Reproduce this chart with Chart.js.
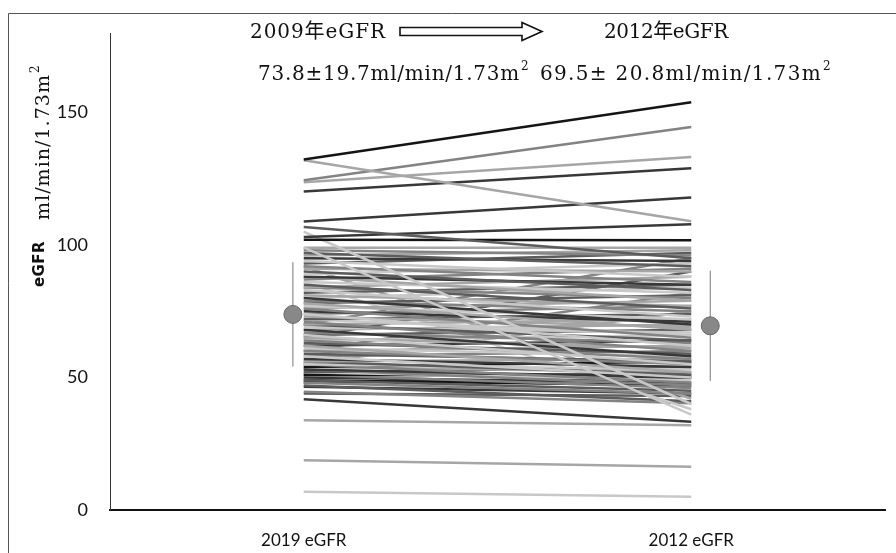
<!DOCTYPE html>
<html>
<head>
<meta charset="utf-8">
<script src="https://cdn.jsdelivr.net/npm/chart.js@4"></script>
<style>
  html, body { margin: 0; padding: 0; background: #fff; }
</style>
</head>
<body>
<canvas id="myChart" width="896" height="553"></canvas>
<script>
const xLabels = ["2019 eGFR", "2012 eGFR"];
const xTickPos = [0.5, 1.5];
const yTicks = [0, 50, 100, 150];

// one entry per patient: 2009 value -> 2012 value
const egfr2009 = [132.3, 132, 124.4, 123.7, 120.2, 108.9, 106.8, 103, 102, 105, 99,
  99, 98, 97, 96, 95, 94, 93, 92, 91, 90, 89, 88, 88, 87, 86, 85, 84, 84, 83, 82, 81,
  80, 80, 79, 78, 78, 77, 76, 76, 75, 74, 74, 73, 72, 72, 71, 70, 70, 69, 68, 68, 67,
  66, 66, 65, 64, 64, 63, 62, 62, 61, 60, 60, 59, 58, 58, 57, 56, 56, 55, 55, 54, 54,
  53, 53, 52, 52, 51, 51, 50, 50, 49, 49, 48, 48,
  92, 86, 60, 55, 65, 70,
  47, 46.5, 44.6, 44, 41.8, 33.9, 18.8, 6.9];
const egfr2012 = [153.9, 109, 144.5, 133.2, 129, 117.9, 95, 107.8, 101.8, 40, 36,
  99, 96, 92, 98, 94, 88, 97, 86, 90, 83, 93, 85, 79, 91, 82, 76, 88, 80, 73, 85, 77,
  70, 84, 75, 68, 81, 72, 65, 79, 71, 62, 77, 69, 74, 66, 60, 72, 64, 67, 58, 70, 63,
  55, 68, 61, 57, 66, 59, 52, 64, 58, 55, 62, 56, 50, 60, 54, 57, 51, 53, 48, 56, 52,
  50, 47, 54, 49, 51, 46, 48, 52, 45, 47, 44, 50,
  42, 38, 82, 75, 90, 95,
  41, 44, 40.3, 43, 33.3, 32, 16.3, 5];
const lineShade = [0, 4, 3, 4, 1, 1, 2, 1, 0, 5, 5,
  4, 3, 2, 4, 1, 5, 2, 3, 4, 2, 5, 1, 4, 3, 5, 2, 4, 3, 5, 2, 4,
  1, 5, 3, 4, 2, 5, 3, 4, 1, 5, 3, 4, 2, 5, 3, 4, 2, 5, 1, 4, 3,
  5, 2, 4, 3, 5, 2, 4, 1, 5, 3, 4, 2, 5, 3, 1, 4, 2, 5, 3, 0, 4,
  1, 3, 2, 5, 0, 3, 1, 4, 2, 0, 3, 1,
  4, 5, 3, 4, 2, 3,
  2, 1, 3, 2, 1, 4, 4, 5];

const meanValues = [73.8, 69.5];
const sdValues = [19.7, 20.8];
const meanXPos = [0.472, 1.549];

const headerYears = ["2009年eGFR", "2012年eGFR"];
const headerStats = ["73.8±19.7ml/min/1.73m", "69.5± 20.8ml/min/1.73m"];

const palette = ["#141414", "#383838", "#5c5c5c", "#838383", "#a6a6a6", "#c8c8c8"];
const serif = '"DejaVu Serif", "Noto Sans CJK JP", serif';

const datasets = [];

datasets.push({
  label: "mean",
  data: meanXPos.map((x, i) => ({ x: x, y: meanValues[i] })),
  pointRadius: 9,
  backgroundColor: "#888888",
  borderColor: "#666666",
  borderWidth: 1,
  showLine: false
});

meanXPos.forEach((x, i) => {
  datasets.push({
    label: "sd" + i,
    data: [{ x: x, y: meanValues[i] - sdValues[i] }, { x: x, y: meanValues[i] + sdValues[i] }],
    showLine: true,
    borderColor: "#777777",
    borderWidth: 1,
    pointRadius: 0
  });
});

egfr2009.forEach((v, i) => {
  datasets.push({
    label: "p" + i,
    data: [{ x: xTickPos[0], y: v }, { x: xTickPos[1], y: egfr2012[i] }],
    showLine: true,
    borderColor: palette[lineShade[i]],
    borderWidth: 2.5,
    pointRadius: 0
  });
});

function fitText(ctx, text, x, y, width) {
  ctx.letterSpacing = "0px";
  const w = ctx.measureText(text).width;
  const n = [...text].length;
  ctx.letterSpacing = ((width - w) / n) + "px";
  ctx.fillText(text, x, y);
  ctx.letterSpacing = "0px";
  return x + width;
}

const decorations = {
  id: "decorations",
  afterDraw(chart) {
    const ctx = chart.ctx;
    ctx.save();

    // frame
    ctx.strokeStyle = "#555";
    ctx.lineWidth = 1;
    ctx.beginPath();
    ctx.moveTo(8.5, 553);
    ctx.lineTo(8.5, 13.5);
    ctx.lineTo(896, 13.5);
    ctx.stroke();

    // header
    ctx.fillStyle = "#111";
    ctx.textBaseline = "alphabetic";
    ctx.textAlign = "left";
    ctx.font = "20px " + serif;
    fitText(ctx, headerYears[0], 250, 38, 136);
    fitText(ctx, headerYears[1], 604, 38, 124);

    let end = fitText(ctx, headerStats[0], 258, 80, 262);
    ctx.font = "12px " + serif;
    ctx.fillText("2", end + 1, 70);
    ctx.font = "20px " + serif;
    end = fitText(ctx, headerStats[1], 540, 80, 282);
    ctx.font = "12px " + serif;
    ctx.fillText("2", end + 1, 70);

    // hollow arrow
    const ax0 = 400, ax1 = 542, cy = 31.5;
    ctx.strokeStyle = "#111";
    ctx.lineWidth = 1.6;
    ctx.beginPath();
    ctx.moveTo(ax0, cy - 4);
    ctx.lineTo(ax1 - 20, cy - 4);
    ctx.lineTo(ax1 - 20, cy - 9);
    ctx.lineTo(ax1, cy);
    ctx.lineTo(ax1 - 20, cy + 9);
    ctx.lineTo(ax1 - 20, cy + 4);
    ctx.lineTo(ax0, cy + 4);
    ctx.closePath();
    ctx.stroke();

    // y axis title
    ctx.save();
    ctx.translate(0, 287);
    ctx.rotate(-Math.PI / 2);
    ctx.font = "bold 15px 'DejaVu Sans', sans-serif";
    ctx.fillStyle = "#111";
    fitText(ctx, "eGFR", 0, 44, 46);
    ctx.font = "19px " + serif;
    end = fitText(ctx, "ml/min/1.73m", 67, 49, 146);
    ctx.font = "12px " + serif;
    ctx.fillText("2", end + 1, 39);
    ctx.restore();

    ctx.restore();
  }
};

const chartOptions = {
  responsive: false,
  animation: false,
  layout: { padding: { top: 33, right: 11, left: 0, bottom: 0 } },
  plugins: {
    legend: { display: false },
    tooltip: { enabled: false }
  },
  scales: {
    x: {
      type: "linear",
      min: 0,
      max: 2,
      afterBuildTicks: scale => { scale.ticks = xTickPos.map(v => ({ value: v })); },
      afterFit: scale => { scale.height = 43; },
      grid: { display: false, drawTicks: false },
      border: { display: true, color: "#111", width: 2 },
      ticks: {
        padding: 20,
        color: "#111",
        font: { family: "Lato, sans-serif", size: 17 },
        callback: (v) => xLabels[xTickPos.indexOf(v)]
      }
    },
    y: {
      min: 0,
      max: 180,
      afterBuildTicks: scale => { scale.ticks = yTicks.map(v => ({ value: v })); },
      afterFit: scale => { scale.width = 110; },
      grid: { display: false, drawTicks: false },
      border: { display: true, color: "#333", width: 1 },
      ticks: {
        padding: 22,
        color: "#111",
        font: { family: "Lato, sans-serif", size: 18 }
      }
    }
  }
};

const ctx = document.getElementById("myChart").getContext("2d");
const myChart = new Chart(ctx, {
  type: "scatter",
  data: { datasets: datasets },
  options: chartOptions,
  plugins: [decorations]
});
</script>
</body>
</html>
